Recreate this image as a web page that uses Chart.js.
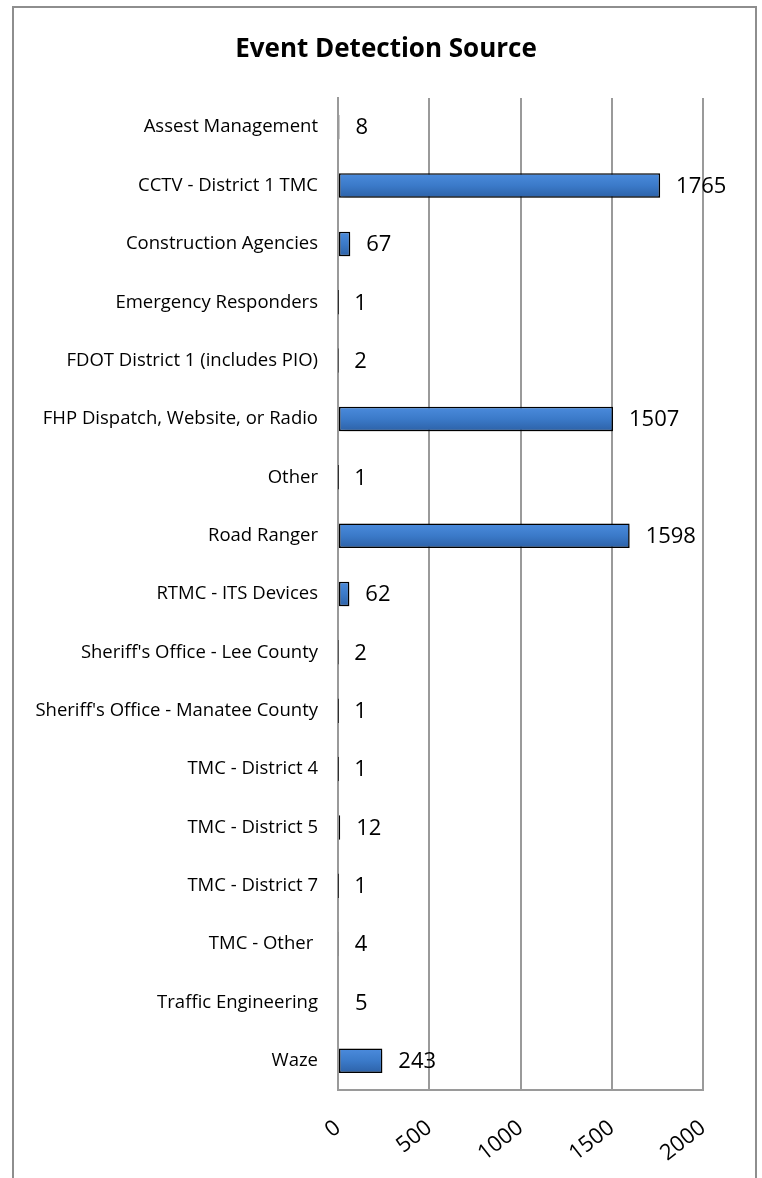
<!DOCTYPE html>
<html>
<head>
<meta charset="utf-8">
<script src="https://cdn.jsdelivr.net/npm/chart.js@4/dist/chart.umd.min.js"></script>
<style>
  body { margin: 0; background: #fff; }
  #frame { position: absolute; left: 12px; top: 6px; width: 745px; height: 1200px; border: 2px solid #8e8e8e; box-sizing: border-box; }
  #wrap { position: absolute; left: 0; top: 0; width: 762px; height: 1178px; }
</style>
</head>
<body>
<div id="frame"></div>
<div id="wrap"><canvas id="myChart" width="762" height="1178"></canvas></div>
<script>
// data
var sources = [
    "Assest Management",
    "CCTV - District 1 TMC",
    "Construction Agencies",
    "Emergency Responders",
    "FDOT District 1 (includes PIO)",
    "FHP Dispatch, Website, or Radio",
    "Other",
    "Road Ranger",
    "RTMC - ITS Devices",
    "Sheriff's Office - Lee County",
    "Sheriff's Office - Manatee County",
    "TMC - District 4",
    "TMC - District 5",
    "TMC - District 7",
    "TMC - Other ",
    "Traffic Engineering",
    "Waze"
];
var counts = [8, 1765, 67, 1, 2, 1507, 1, 1598, 62, 2, 1, 1, 12, 1, 4, 5, 243];
var xTicks = [0, 500, 1000, 1500, 2000];
var chartTitle = "Event Detection Source";

var FONT = "'Open Sans', 'Liberation Sans', sans-serif";

//title centred on the whole frame, not on the plot
var titleText = {
    id: 'titleText',
    afterDraw: function(chart) {
        var ctx = chart.ctx;
        ctx.save();
        ctx.font = "bold 26px " + FONT;
        ctx.fillStyle = '#000';
        ctx.textAlign = 'center';
        ctx.textBaseline = 'middle';
        ctx.fillText(chartTitle, 386, 50);
        ctx.restore();
    }
};

//shadow under the bars
var barShadow = {
    id: 'barShadow',
    beforeDatasetsDraw: function(chart) {
        var ctx = chart.ctx;
        ctx.save();
        ctx.shadowColor = 'rgba(0,0,0,0.35)';
        ctx.shadowBlur = 5;
        ctx.shadowOffsetX = 2;
        ctx.shadowOffsetY = 3;
    },
    afterDatasetsDraw: function(chart) {
        chart.ctx.restore();
    }
};

//value next to each bar
var valueLabels = {
    id: 'valueLabels',
    afterDatasetsDraw: function(chart) {
        var ctx = chart.ctx;
        var meta = chart.getDatasetMeta(0);
        ctx.save();
        ctx.font = "22px " + FONT;
        ctx.fillStyle = '#000';
        ctx.textAlign = 'left';
        ctx.textBaseline = 'middle';
        meta.data.forEach(function(bar, i) {
            ctx.fillText(String(counts[i]), bar.x + 16, bar.y + 1);
        });
        ctx.restore();
    }
};

var ctx = document.getElementById('myChart').getContext('2d');
var chart = new Chart(ctx, {
    type: 'bar',
    data: {
        labels: sources,
        datasets: [{
            data: counts,
            backgroundColor: function(c) {
                var ch = c.chart;
                var y = ch.scales && ch.scales.y;
                if (!ch.chartArea || !y) return '#3b78c8';
                var cy = y.getPixelForValue(c.dataIndex);
                var g = ch.ctx.createLinearGradient(0, cy - 12, 0, cy + 12);
                g.addColorStop(0, '#4b8bdc');
                g.addColorStop(0.5, '#3b7ac9');
                g.addColorStop(1, '#2d62a8');
                return g;
            },
            borderColor: '#000',
            borderWidth: 1.5,
            borderSkipped: false,
            categoryPercentage: 1,
            barPercentage: 0.42
        }]
    },
    options: {
        indexAxis: 'y',
        responsive: false,
        animation: false,
        events: [],
        layout: { padding: { top: 98, right: 59, bottom: 0, left: 0 } },
        plugins: {
            legend: { display: false },
            tooltip: { enabled: false },
            title: { display: false }
        },
        scales: {
            x: {
                min: 0,
                max: 2000,
                afterBuildTicks: function(scale) {
                    scale.ticks = xTicks.map(function(v) { return { value: v }; });
                },
                afterFit: function(scale) { scale.height = 88; },
                grid: { color: '#9a9a9a', lineWidth: 2, drawTicks: false },
                border: { color: '#9a9a9a', width: 2 },
                ticks: {
                    autoSkip: false,
                    minRotation: 38,
                    maxRotation: 38,
                    padding: 25,
                    color: '#000',
                    font: { family: FONT, size: 22 },
                    callback: function(v) { return String(v); }
                }
            },
            y: {
                afterFit: function(scale) { scale.width = 338; },
                grid: { display: false, drawTicks: false },
                border: { color: '#9a9a9a', width: 2 },
                ticks: {
                    autoSkip: false,
                    padding: 20,
                    color: '#000',
                    font: { family: FONT, size: 18.5 }
                }
            }
        }
    },
    plugins: [titleText, barShadow, valueLabels]
});
</script>
</body>
</html>
